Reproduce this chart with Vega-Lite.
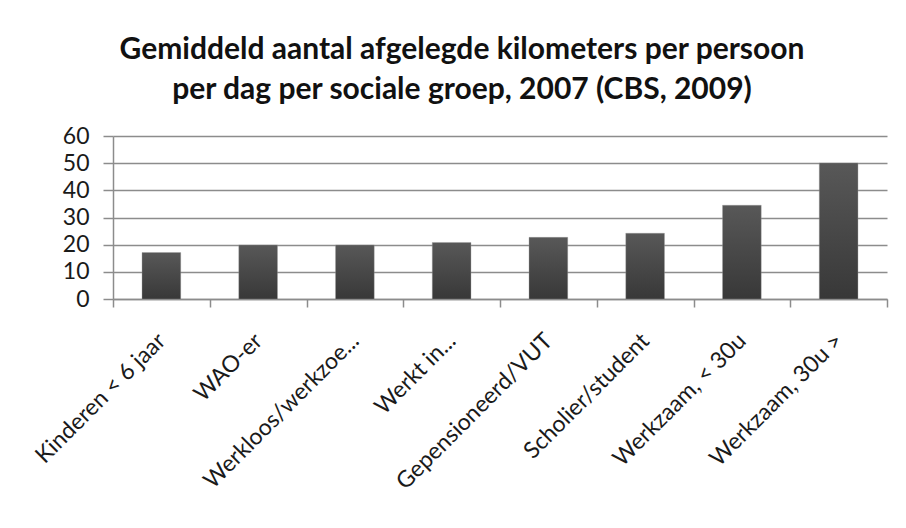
{
  "$schema": "https://vega.github.io/schema/vega-lite/v6.json",
  "autosize": {"type": "none"},
  "width": 774,
  "height": 163,
  "padding": {"left": 113, "top": 136, "right": 19, "bottom": 229},
  "background": "white",
  "config": {
    "font": "Lato",
    "view": {"stroke": null}
  },
  "title": {
    "text": ["Gemiddeld aantal afgelegde kilometers per persoon", "per dag per sociale groep, 2007 (CBS, 2009)"],
    "font": "Lato",
    "fontSize": 30,
    "fontWeight": "bold",
    "color": "#111111",
    "lineHeight": 40,
    "anchor": "middle",
    "dx": -38,
    "offset": 20
  },
  "data": {
    "values": [
      {"groep": "Kinderen < 6 jaar", "km": 17.1},
      {"groep": "WAO-er", "km": 19.9},
      {"groep": "Werkloos/werkzoe...", "km": 19.9},
      {"groep": "Werkt in...", "km": 20.8},
      {"groep": "Gepensioneerd/VUT", "km": 22.7},
      {"groep": "Scholier/student", "km": 24.2},
      {"groep": "Werkzaam, < 30u", "km": 34.5},
      {"groep": "Werkzaam, 30u >", "km": 50.1}
    ]
  },
  "mark": {
    "type": "bar",
    "width": {"band": 0.4},
    "color": {
      "gradient": "linear",
      "x1": 0, "y1": 0, "x2": 0, "y2": 1,
      "stops": [
        {"offset": 0, "color": "#585858"},
        {"offset": 1, "color": "#383838"}
      ]
    },
    "stroke": "#9a9a9a",
    "strokeWidth": 0.6,
    "strokeOpacity": 0.6
  },
  "encoding": {
    "x": {
      "field": "groep",
      "type": "nominal",
      "sort": null,
      "scale": {"paddingInner": 0, "paddingOuter": 0},
      "axis": {
        "title": null,
        "tickBand": "extent",
        "labelAngle": -45,
        "labelAlign": "right",
        "labelBaseline": "middle",
        "labelFontSize": 23,
        "labelColor": "#1a1a1a",
        "labelPadding": 30,
        "labelLimit": 400,
        "domainColor": "#8c8c8c",
        "domainWidth": 1.5,
        "tickColor": "#8c8c8c",
        "tickWidth": 1.5,
        "tickSize": 8,
        "grid": false
      }
    },
    "y": {
      "field": "km",
      "type": "quantitative",
      "scale": {"domain": [0, 60]},
      "axis": {
        "title": null,
        "values": [0, 10, 20, 30, 40, 50, 60],
        "labelFontSize": 23,
        "labelColor": "#1a1a1a",
        "labelPadding": 14,
        "tickSize": 10,
        "tickColor": "#8c8c8c",
        "tickWidth": 1.5,
        "domainColor": "#8c8c8c",
        "domainWidth": 1.5,
        "gridColor": "#8c8c8c",
        "gridWidth": 1.5
      }
    }
  }
}
